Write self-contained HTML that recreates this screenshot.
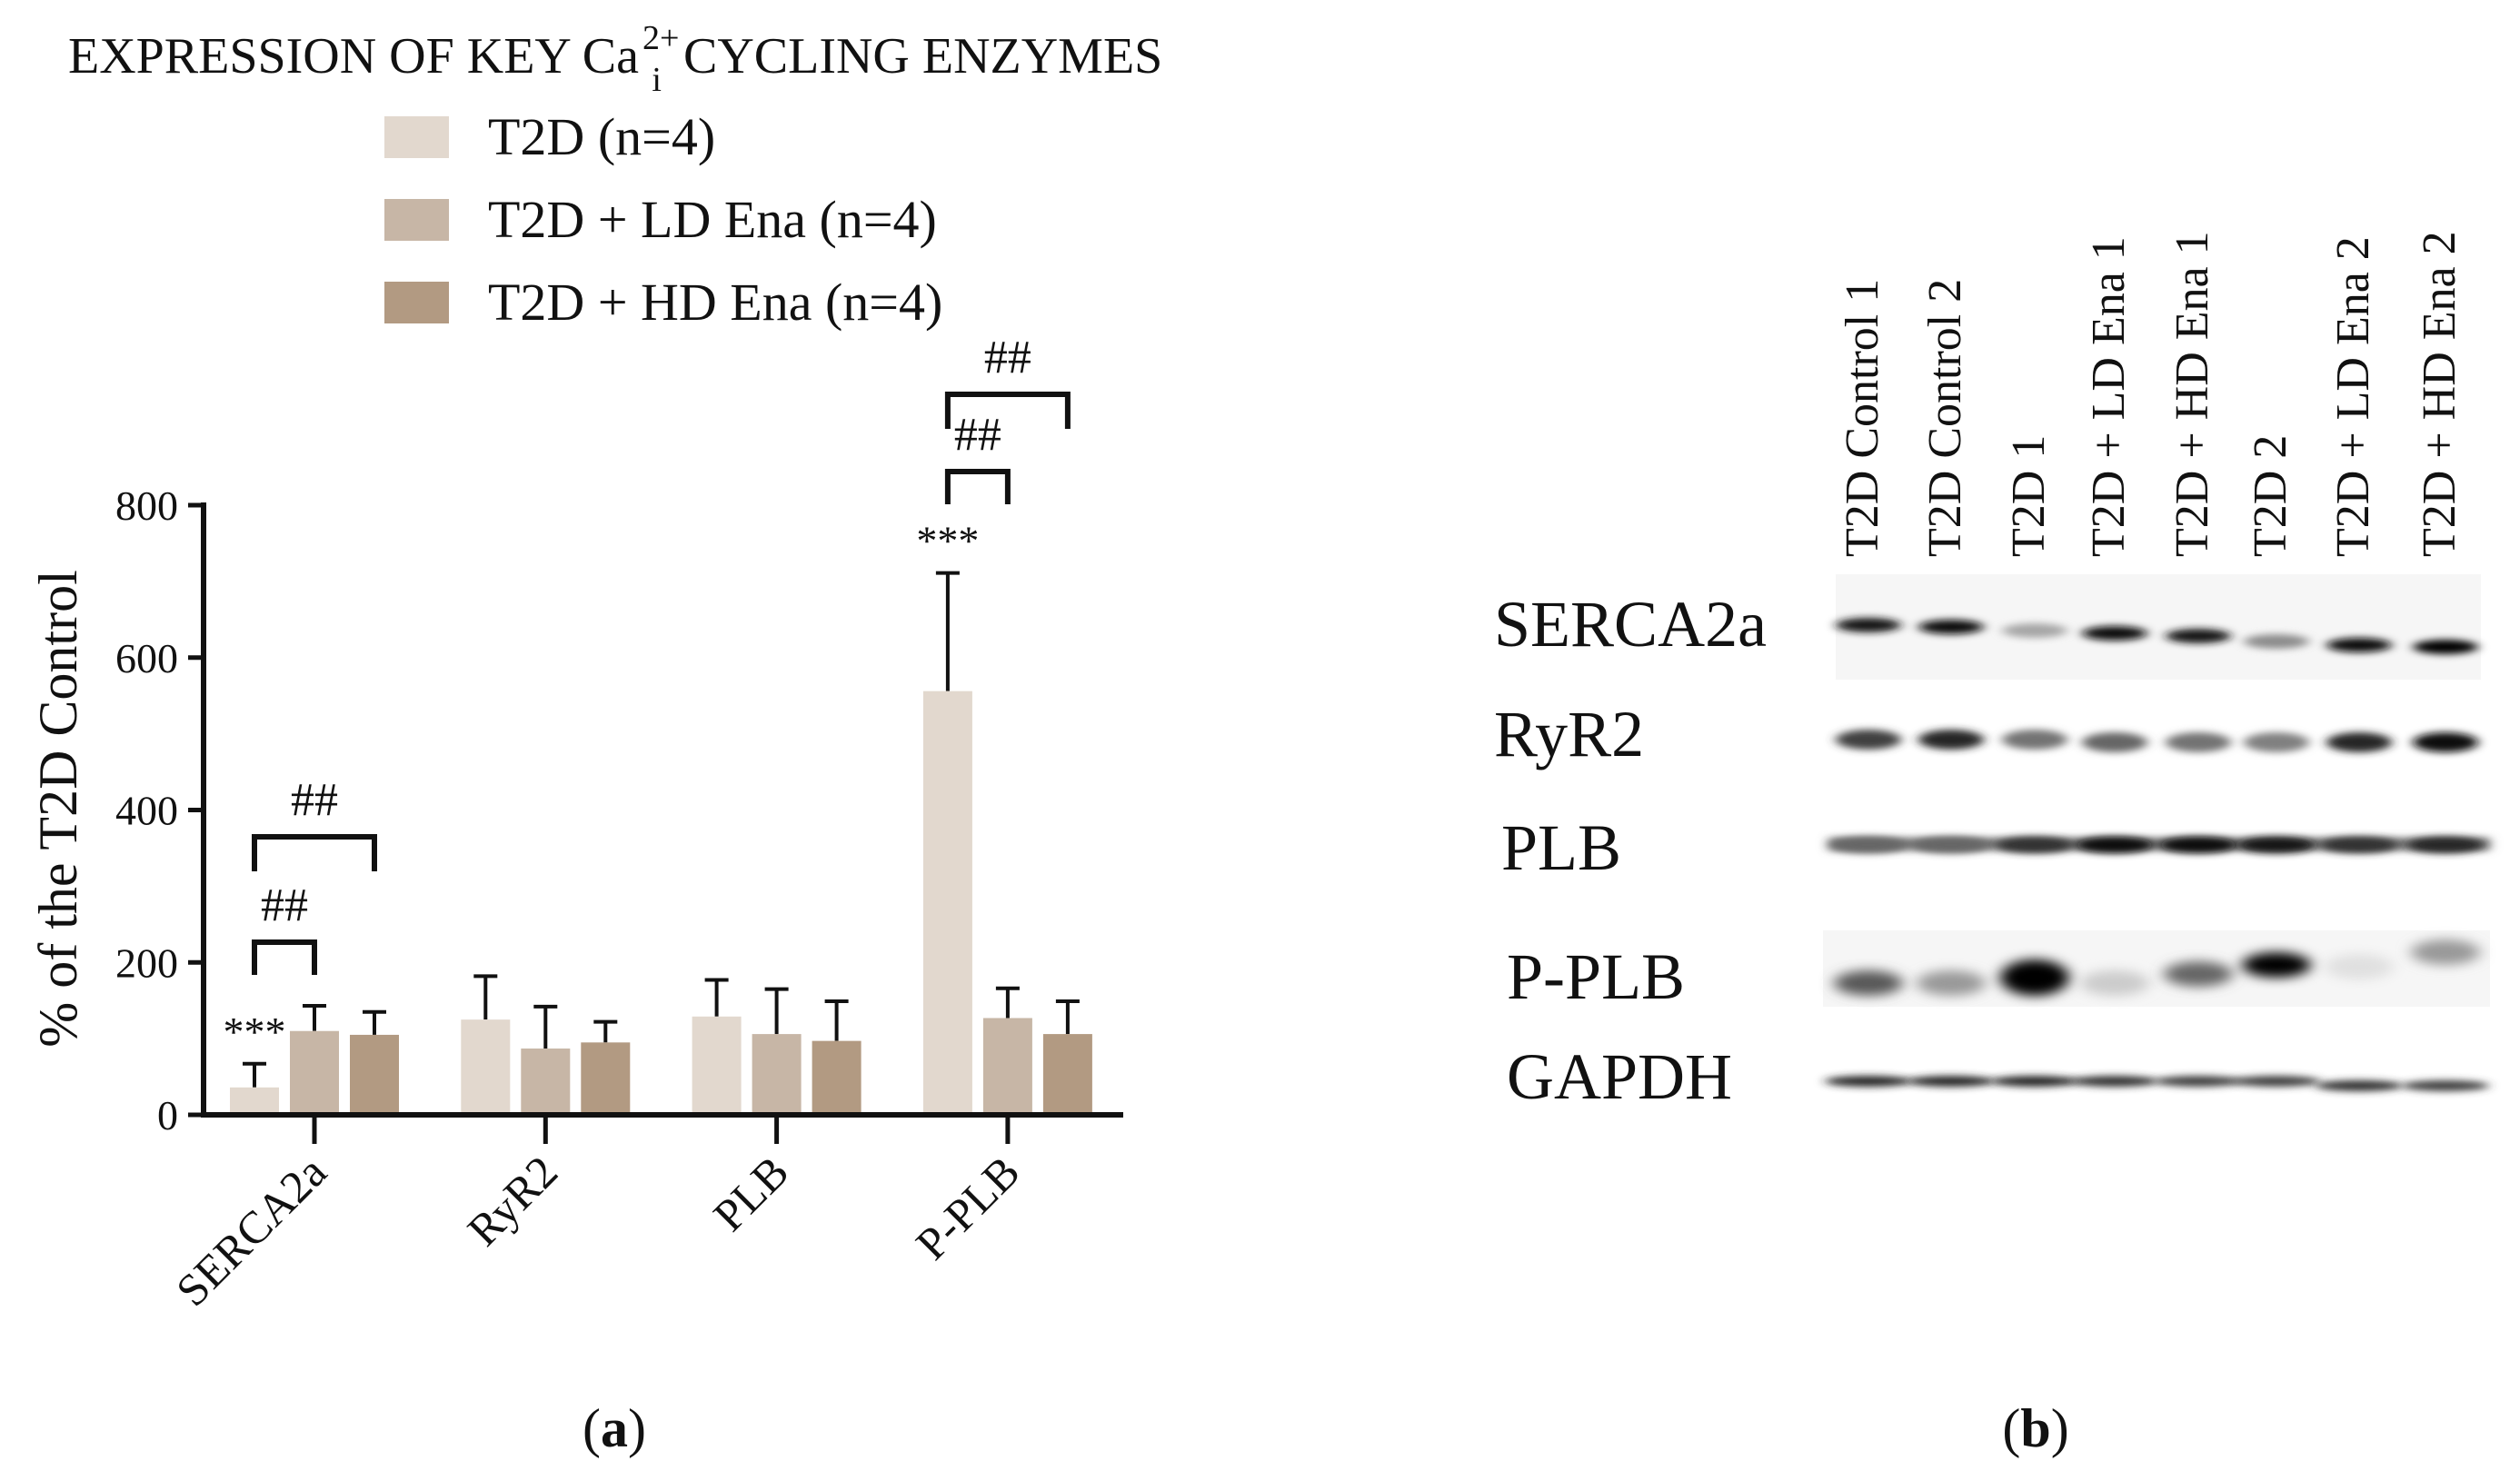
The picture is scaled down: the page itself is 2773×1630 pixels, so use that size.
<!DOCTYPE html>
<html><head><meta charset="utf-8"><style>
html,body{margin:0;padding:0;background:#fff}
svg{display:block}
text{font-family:"Liberation Serif",serif;fill:#111}
</style></head><body>
<svg id="fig" width="2773" height="1630" viewBox="0 0 2773 1630">
<defs>
<filter id="b1" x="-50%" y="-100%" width="200%" height="300%"><feGaussianBlur stdDeviation="6 4"/></filter>
<filter id="b2" x="-50%" y="-100%" width="200%" height="300%"><feGaussianBlur stdDeviation="8 6"/></filter>
</defs>
<text x="75" y="80" font-size="56">EXPRESSION OF KEY Ca<tspan font-size="38" dy="-26" dx="4">2+</tspan><tspan font-size="38" dy="46" dx="-30">i</tspan><tspan dy="-20" dx="24">CYCLING ENZYMES</tspan></text>
<g id="legend"></g>
<g id="chart"></g>
<g id="blot"></g>
<text x="676" y="1592" font-size="60" text-anchor="middle">(<tspan font-weight="bold">a</tspan>)</text>
<text x="2240" y="1592" font-size="60" text-anchor="middle">(<tspan font-weight="bold">b</tspan>)</text>
</svg>
<script>
const categories=["SERCA2a","RyR2","PLB","P-PLB"];
const seriesNames=["T2D (n=4)","T2D + LD Ena (n=4)","T2D + HD Ena (n=4)"];
const seriesColors=["#e2d8ce","#c7b6a6","#b29a82"];
const t2dMean=[36,125,129,556];
const ldMean=[110,87,106,127];
const hdMean=[105,95,97,106];
const t2dErr=[67,182,177,711];
const ldErr=[143,142,165,166];
const hdErr=[135,122,149,149];
const yTicks=[0,200,400,600,800];
const NS="http://www.w3.org/2000/svg";
function mk(tag,attrs,parent){const e=document.createElementNS(NS,tag);for(const k in attrs)e.setAttribute(k,attrs[k]);parent.appendChild(e);return e;}
const X0=224,X1=1236,Y0=1227,Y800=556;
function y(v){return Y0-(v/800)*(Y0-Y800);}
function xc(i){return 346+i*254.3;}
function xs(i,s){return xc(i)+(s-1)*66;}
const chart=document.getElementById('chart');
const means=[t2dMean,ldMean,hdMean],errs=[t2dErr,ldErr,hdErr];
for(let s=0;s<3;s++){for(let i=0;i<categories.length;i++){
 const cx=xs(i,s),top=y(means[s][i]),et=y(errs[s][i]);
 const eb=mk('line',{x1:cx,x2:cx,y1:top,y2:et,stroke:'#111','stroke-width':4},chart);
 
 
 const cap=mk('line',{x1:cx-13,x2:cx+13,y1:et,y2:et,stroke:'#111','stroke-width':4},chart);
 
 
 const r=mk('rect',{x:cx-27,y:top,width:54,height:Y0-top,fill:seriesColors[s]},chart);
 
 
}}
const ya=mk('line',{x1:X0,x2:X0,y1:Y800-3,y2:Y0+3,stroke:'#111','stroke-width':6},chart);


const xa=mk('line',{x1:X0-3,x2:X1,y1:Y0,y2:Y0,stroke:'#111','stroke-width':6},chart);


yTicks.forEach(v=>{
 const t=mk('line',{x1:X0-17,x2:X0,y1:y(v),y2:y(v),stroke:'#111','stroke-width':5},chart);
 
 
 const l=mk('text',{x:X0-28,y:y(v)+16,'font-size':46,'text-anchor':'end'},chart);
 l.textContent=v;
 
 
});
categories.forEach((c,i)=>{
 const t=mk('line',{x1:xc(i),x2:xc(i),y1:Y0,y2:Y0+32,stroke:'#111','stroke-width':5},chart);
 
 
 const l=mk('text',{x:0,y:0,'font-size':50,'text-anchor':'end',transform:`translate(${xc(i)+16},${Y0+66}) rotate(-45)`},chart);
 l.textContent=c;
 
 
});
const yt=mk('text',{x:0,y:0,'font-size':60,'text-anchor':'middle',transform:'translate(84,890) rotate(-90)'},chart);
yt.textContent='% of the T2D Control';


function star(i,v){const t=mk('text',{x:xs(i,0),y:y(v)-20,'font-size':46,'text-anchor':'middle'},chart);t.textContent='***';
 
 }
star(0,t2dErr[0]);star(3,t2dErr[3]);
function bracket(i,s2,top,h){
 const xa_=xs(i,0),xb=xs(i,s2);
 const p=mk('path',{d:`M${xa_},${top+h} V${top} H${xb} V${top+h}`,fill:'none',stroke:'#111','stroke-width':6},chart);
 
 
 const t=mk('text',{x:(xa_+xb)/2,y:top-24,'font-size':52,'text-anchor':'middle'},chart);t.textContent='##';
 
 
}
bracket(0,1,1037,36);bracket(0,2,921,38);bracket(3,1,519,36);bracket(3,2,434,38);
const lg=document.getElementById('legend');
seriesNames.forEach((n,s)=>{
 const yy=128+s*91;
 const r=mk('rect',{x:423,y:yy,width:71,height:46,fill:seriesColors[s]},lg);
 
 
 const t=mk('text',{x:537,y:yy+42,'font-size':58},lg);t.textContent=n;
 
 
});
const lanes=["T2D Control 1","T2D Control 2","T2D  1","T2D  + LD Ena 1","T2D  + HD Ena 1","T2D  2","T2D  + LD Ena 2","T2D  + HD Ena 2"];
const laneX=[2056,2147,2239,2327,2419,2505,2596,2691];
const proteins=["SERCA2a","RyR2","PLB","P-PLB","GAPDH"];
const protY=[686,807,932,1074,1184];
const serca=[0.9,0.95,0.35,0.95,0.9,0.45,0.95,1];
const ryr=[0.75,0.85,0.55,0.6,0.55,0.5,0.85,0.95];
const plb=[0.6,0.6,0.8,0.95,0.95,0.9,0.8,0.85];
const pplb=[0.65,0.4,1,0.2,0.6,1,0.12,0.4];
const gapdh=[0.85,0.85,0.85,0.8,0.75,0.75,0.8,0.75];
const bl=document.getElementById('blot');
lanes.forEach((n,i)=>{
 const t=mk('text',{x:0,y:0,'font-size':52,transform:`translate(${laneX[i]+10},613) rotate(-90)`},bl);
 t.textContent=n;
 
 
});
proteins.forEach((p,k)=>{
 const t=mk('text',{x:1644+(k>=3?14:(k==2?8:0)),y:protY[k]+25,'font-size':72},bl);
 t.textContent=p;
 
 
});
[[2020,632,710,116],[2006,1024,734,84]].forEach(a=>{
 const r=mk('rect',{x:a[0],y:a[1],width:a[2],height:a[3],fill:'#f6f6f6'},bl);
 
 
});
function band(cx,cy,w,h,v,f){const g=Math.round(255*(1-v));
 const e=mk('ellipse',{cx:cx,cy:cy,rx:w,ry:h,fill:`rgb(${g},${g},${g})`,filter:`url(#${f})`},bl);
 
 }
const serY=[688,690,694,697,700,706,710,712];
serca.forEach((v,i)=>band(laneX[i],serY[i],36,8,v,'b1'));
ryr.forEach((v,i)=>band(laneX[i],814+(i>2?3:0),36,11,v,'b1'));
const plbBg=mk('rect',{x:2012,y:922,width:728,height:14,fill:'#777',filter:'url(#b1)'},bl);


plb.forEach((v,i)=>band(laneX[i],930,42,9,v,'b1'));
const ppY=[1082,1082,1076,1082,1072,1062,1064,1048];
pplb.forEach((v,i)=>band(laneX[i],ppY[i],38,i==2?20:14,v,'b2'));
gapdh.forEach((v,i)=>band(laneX[i],1190+(i>5?5:0),48,6,v,'b1'));
</script>
</body></html>
